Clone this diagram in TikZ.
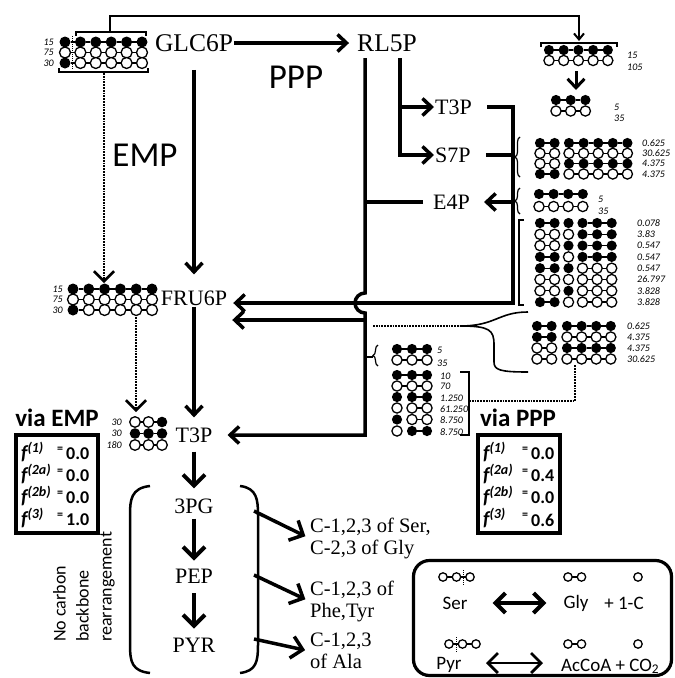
\documentclass[tikz,border=0pt]{standalone}
\usepackage{fontspec}
\setmainfont{Liberation Serif}
\setsansfont{Carlito}
\usetikzlibrary{arrows.meta, decorations.pathreplacing}

\newcommand{\metfont}{\fontsize{22}{24}\selectfont}
\newcommand{\bigmetfont}{\fontsize{25.5}{27}\selectfont}
\newcommand{\pathfont}{\sffamily\fontsize{35}{38}\selectfont}
\newcommand{\numfont}{\sffamily\itshape\fontsize{10}{11}\selectfont}
\newcommand{\cdx}{15}
\newcommand{\crad}{5.1}
% one row of carbon atoms: x, y, pattern (1 = labelled)
\newcommand{\crow}[3]{%
  \edef\plist{#3}%
  \foreach \v [count=\i] in \plist {
    \pgfmathsetmacro\cx{#1+(\i-1)*\cdx}
    \ifnum\i>1 \draw[bond] ({\cx-\cdx+\crad},#2) -- ({\cx-\crad},#2); \fi
    \ifnum\v=1 \fill (\cx,#2) circle[radius=\crad]; \else \draw[atom] (\cx,#2) circle[radius=\crad]; \fi
  }%
}

\begin{document}
\begin{tikzpicture}[
    x=1pt, y=-1pt,
    every node/.style={inner sep=1pt},
    met/.style={font=\metfont},
    bigmet/.style={font=\bigmetfont},
    plabel/.style={font=\pathfont},
    link/.style={line width=3.5pt},
    flow/.style={link, -{Straight Barb[length=9pt, width=17pt]}},
    chainarrow/.style={line width=4pt, -{Straight Barb[length=11pt, width=22pt]}},
    bond/.style={line width=1.3pt},
    atom/.style={line width=1.3pt, fill=white},
    num/.style={font=\numfont, inner sep=0pt},
    thinline/.style={line width=1.6pt},
    dotline/.style={densely dotted, line width=1.8pt},
    dothead/.style={-{Straight Barb[length=10pt, width=20pt, line width=2.6pt]}},
    curly/.style={decorate, decoration={brace, amplitude=5pt}, line width=1.2pt},
    both/.style={{Straight Barb[length=10pt, width=20pt]}-{Straight Barb[length=10pt, width=20pt]}},
    half/.style={-{Straight Barb[length=10pt, width=20pt]}},
    vtitle/.style={font=\sffamily\bfseries\fontsize{25}{27}\selectfont},
    fracbox/.style={draw, line width=3.5pt, minimum width=82pt, minimum height=98pt},
    fsym/.style={anchor=west, font=\sffamily\bfseries\itshape\fontsize{20}{22}\selectfont},
    feq/.style={font=\sffamily\bfseries\fontsize{12}{13}\selectfont},
    fval/.style={anchor=west, font=\sffamily\bfseries\fontsize{18}{20}\selectfont},
    product/.style={anchor=west, align=left, font=\fontsize{20.5}{22}\selectfont},
    legtext/.style={font=\sffamily\fontsize{19}{21}\selectfont}
]
\useasboundingbox (0,0) rectangle (675,678);

% metabolites
\node[bigmet] (glc) at (194,43) {GLC6P};
\node[bigmet] (rl5p) at (387,43) {RL5P};
\node[plabel] (ppp) at (296,77) {PPP};
\node[plabel] (emp) at (145,155) {EMP};
\node[met, anchor=west] (t3pr) at (434,107) {T3P};
\node[met, anchor=west] (s7p) at (434,155) {S7P};
\node[met, anchor=west] (e4p) at (432,202) {E4P};
\node[met] (fru) at (194,298) {FRU6P};
\node[met] (t3p) at (194,435) {T3P};
\node[met] (pg) at (194,506) {3PG};
\node[met] (pep) at (194,576) {PEP};
\node[met] (pyr) at (194,645) {PYR};

\coordinate (rla) at (365,58);
\coordinate (rlb) at (400,58);
\coordinate (jr) at (513,303);
\coordinate (jf) at (365,320);
\coordinate (jl) at (365,435);

\draw[flow, shorten >=7pt] (glc) -- (rl5p);
\draw[flow, shorten <=17pt, shorten >=15pt] (glc) -- (fru);
\draw[flow, shorten >=9pt] (fru) -- (t3p);
\draw[flow] (rlb) |- (s7p);
\draw[flow] (rlb |- t3pr) -- (t3pr);
\draw[flow, shorten >=5pt] ([xshift=14pt]t3pr.east) -| (jr) -- (jr -| fru.east);
\draw[link] ([xshift=14pt]s7p.east) -- (s7p.east -| jr);
\draw[flow, shorten >=13pt] (e4p -| jr) -- (e4p);
\draw[link, shorten <=9pt] (e4p.west) -- (e4p.west -| rla);
\draw[flow, shorten >=14pt] (rla) -- (365,293) arc[start angle=270, end angle=90, radius=10] -- (jl) -- (jl -| t3p.east);
\draw[flow, shorten >=4pt] (jf) -- (jf -| fru.east);
\draw[thinline] (365,357) -- (373,357);

% lower part
\draw[chainarrow, shorten <=8pt, shorten >=9pt] (t3p) -- (pg);
\draw[chainarrow, shorten <=4pt, shorten >=7pt] (pg) -- (pep);
\draw[chainarrow, shorten <=9pt, shorten >=8pt] (pep) -- (pyr);
\draw[line width=2.5pt] (150,486) .. controls (131,488) and (130,500) .. (130,515) -- (130,645) .. controls (130,662) and (132,671) .. (150,673);
\draw[line width=2.5pt] (240,486) .. controls (257,488) and (258,500) .. (258,515) -- (258,645) .. controls (258,662) and (256,671) .. (240,673);
\node[product] (ser) at (309,538) {C-1,2,3 of Ser,\\C-2,3 of Gly};
\node[product] (phe) at (309,601) {C-1,2,3 of\\Phe,Tyr};
\node[product] (ala) at (309,651) {C-1,2,3\\of Ala};
\coordinate (pgo) at (254,511);
\coordinate (pepo) at (254,575);
\coordinate (pyro) at (254,639);
\draw[chainarrow, line width=3.5pt, shorten >=4pt] (pgo) -- (ser.west);
\draw[chainarrow, line width=3.5pt, shorten >=4pt] (pepo) -- (phe.west);
\draw[chainarrow, line width=3.5pt, shorten >=4pt] (pyro) -- (ala.west);
\node[rotate=90, anchor=north west, align=left, font=\sffamily\fontsize{18}{23}\selectfont] (norearr) at (52,643) {No carbon\\backbone\\rearrangement};

% legend
\node[draw, line width=3.2pt, rounded corners=16pt, minimum width=258pt, minimum height=115pt] (legend) at (542.5,618) {};
\node[legtext] (lser) at (455,603) {Ser};
\node[legtext] (lgly) at (576,603) {Gly};
\node[legtext] (lone) at (624,603) {+ 1-C};
\node[legtext] (lpyr) at (449,665) {Pyr};
\node[legtext, anchor=base west] (lac) at (560,671) {AcCoA + CO\textsubscript{2}};
\draw[line width=4pt, both, shorten <=24pt, shorten >=16pt] (lser) -- (lgly);
\coordinate (pa) at (486,663);
\coordinate (pm) at (514,663);
\coordinate (pb) at (543,663);
\draw[line width=2.8pt, half] (pm) -- (pa);
\draw[line width=2.8pt, half] (pm) -- (pb);

% labelling patterns, EMP side
\def\cdx{15.4}\def\crad{5.5}
\foreach \y/\a in {42/{1,1,1,1,1,1}, 52.5/{0,0,0,0,0,0}, 63/{1,0,0,0,0,0}} {\crow{65}{\y}{\a}}
\foreach \t/\y [count=\i] in {15/42, 75/52.5, 30/63} \node[num, anchor=east] (gl\i) at (54,\y) {\t};
\draw[densely dotted, line width=1pt] (72,36) -- (72,70);
\draw[thinline] (59,68) -- (59,72) -- (148,72) -- (148,68);
\draw[thinline] (76,36) -- (76,32) -- (146,32) -- (146,36);
\coordinate (gb) at (104,73);
\coordinate (fa) at (104,283);
\draw[dotline, dothead] (gb) -- (fa);
\draw[line width=2pt, -{Straight Barb[length=6pt, width=10pt]}] (110,32) -- (110,16) -| (579,41);

\def\cdx{15.8}
\foreach \y/\a in {289/{1,1,1,1,1,1}, 299.5/{0,0,0,0,0,0}, 310/{1,0,0,0,0,0}} {\crow{73}{\y}{\a}}
\foreach \t/\y [count=\i] in {15/289, 75/299.5, 30/310} \node[num, anchor=east] (fl\i) at (63,\y) {\t};
\coordinate (fb) at (136,317);
\coordinate (ta) at (136,412);
\draw[dotline, dothead] (fb) -- (ta);

\def\cdx{13.5}\def\crad{5.3}
\foreach \y/\a in {422/{0,0,1}, 433.5/{1,1,1}, 445/{0,0,0}} {\crow{135}{\y}{\a}}
\foreach \t/\y [count=\i] in {30/422, 30/433.5, 180/445} \node[num, anchor=east] (tl\i) at (122,\y) {\t};

% labelling patterns, PPP side
\def\cdx{14.7}\def\crad{5.1}
\draw[thinline] (541,47) -- (541,43) -- (617,43) -- (617,47);
\crow{549}{50}{1,1,1,1,1}
\crow{549}{60.5}{0,0,0,0,0}
\node[num, anchor=west] (rn1) at (627,55) {15};
\node[num, anchor=west] (rn2) at (627,67) {105};
\coordinate (ra) at (576,71);
\coordinate (rb) at (576,90);
\draw[flow, line width=3pt] (ra) -- (rb);
\crow{556}{100}{1,1,1}
\crow{556}{111}{0,0,0}
\node[num, anchor=west] (tn1) at (614,107) {5};
\node[num, anchor=west] (tn2) at (614,118) {35};

\def\cdx{14.6}
\draw[curly] (520,177) -- (520,137);
\foreach \y/\a/\b in {143/{1,1}/{1,1,1,1,1}, 153.3/{0,0}/{0,0,0,0,0}, 163.6/{0,0}/{1,1,1,1,1}, 174/{1,1}/{0,0,0,0,0}} {\crow{540}{\y}{\a}\crow{569}{\y}{\b}}
\foreach \t/\y [count=\i] in {0.625/143, 30.625/153.3, 4.375/163.6, 4.375/174} \node[num, anchor=west] (sn\i) at (642,\y) {\t};

\draw[curly] (520,214) -- (520,188);
\crow{539}{194}{1,1,1,1}
\crow{539}{206.5}{0,0,0,0}
\node[num, anchor=west] (en1) at (598,199) {5};
\node[num, anchor=west] (en2) at (598,211) {35};

\draw[thinline] (524,220) -- (519,220) -- (519,305) -- (524,305);
\foreach \y/\a/\b/\c in {223/{1,1}/1/{1,1,1}, 234.3/{0,0}/0/{1,1,1}, 245.6/{0,0}/1/{1,1,1}, 256.9/{1,1}/0/{1,1,1}, 268.2/{1,1}/1/{0,0,0}, 279.5/{0,0}/0/{0,0,0}, 290.8/{0,0}/1/{0,0,0}, 302.1/{1,1}/0/{0,0,0}} {\crow{540}{\y}{\a}\crow{568.5}{\y}{\b}\crow{582.5}{\y}{\c}}
\foreach \t/\y [count=\i] in {0.078/223, 3.83/234.3, 0.547/245.6, 0.547/256.9, 0.547/268.2, 26.797/279.5, 3.828/290.8, 3.828/302.1} \node[num, anchor=west] (xn\i) at (637,\y) {\t};

\draw[thinline] (528,312) .. controls (498,312) and (496,326) .. (460,326) .. controls (490,326) and (494,330) .. (494,345) -- (494,362) .. controls (494,370) and (500,372) .. (528,372);
\draw[dotline] (373,326) -- (460,326);
\foreach \y/\a/\b in {326/{1,1}/{1,1,1,1}, 337/{1,1}/{0,0,0,0}, 348/{0,0}/{1,1,1,1}, 359/{0,0}/{0,0,0,0}} {\crow{537}{\y}{\a}\crow{567}{\y}{\b}}
\foreach \t/\y [count=\i] in {0.625/326, 4.375/337, 4.375/348, 30.625/359} \node[num, anchor=west] (fn\i) at (627,\y) {\t};

\def\cdx{15}
\draw[curly] (378,366) -- (378,345);
\crow{397}{349}{1,1,1}
\crow{397}{360}{0,0,0}
\node[num, anchor=west] (mn1) at (437,350) {5};
\node[num, anchor=west] (mn2) at (437,363) {35};
\crow{397}{375}{1,1,1}
\crow{397}{386}{0,0,0}
\foreach \y/\a/\b in {397/1/{1,1}, 408/0/{0,0}, 419.5/1/{0,0}, 431/0/{1,1}} {\crow{397}{\y}{\a}\crow{412}{\y}{\b}}
\foreach \t/\y [count=\i] in {10/376, 70/386.5, 1.250/398, 61.250/409, 8.750/420.5, 8.750/432} \node[num, anchor=west] (pn\i) at (440,\y) {\t};
\draw[thinline] (460,372) -- (469,372) -- (469,435) -- (460,435);
\draw[dotline] (469,401) -- (575,401) -- (575,365);

% flux fractions
\node[vtitle] (vemp) at (57,418) {via EMP};
\node[fracbox] (embox) at (57,484) {};
\foreach \s/\v [count=\i] in {1/0.0, 2a/0.0, 2b/0.0, 3/1.0} {
  \node[fsym] (ef\i) at (20,{452+22*(\i-1)}) {f\textsuperscript{(\s)}};
  \node[feq] (ee\i) at (60,{450+22*(\i-1)}) {=};
  \node[fval] (ev\i) at (65,{454+22*(\i-1)}) {\v};
}
\node[vtitle] (vppp) at (518,418) {via PPP};
\node[fracbox] (ppbox) at (519,484) {};
\foreach \s/\v [count=\i] in {1/0.0, 2a/0.4, 2b/0.0, 3/0.6} {
  \node[fsym] (pf\i) at (482,{452+22*(\i-1)}) {f\textsuperscript{(\s)}};
  \node[feq] (pe\i) at (525,{450+22*(\i-1)}) {=};
  \node[fval] (pv\i) at (530,{454+22*(\i-1)}) {\v};
}

% legend atoms
\def\cdx{13.5}\def\crad{4.2}
\crow{443}{577}{0,0,0}
\draw[densely dotted, line width=1pt] (463,570) -- (463,585);
\crow{568}{577}{0,0}
\crow{638}{577}{0}
\crow{449}{644}{0,0,0}
\draw[densely dotted, line width=1pt] (456,637) -- (456,652);
\crow{568}{644}{0,0}
\crow{638}{644}{0}
\end{tikzpicture}
\end{document}
